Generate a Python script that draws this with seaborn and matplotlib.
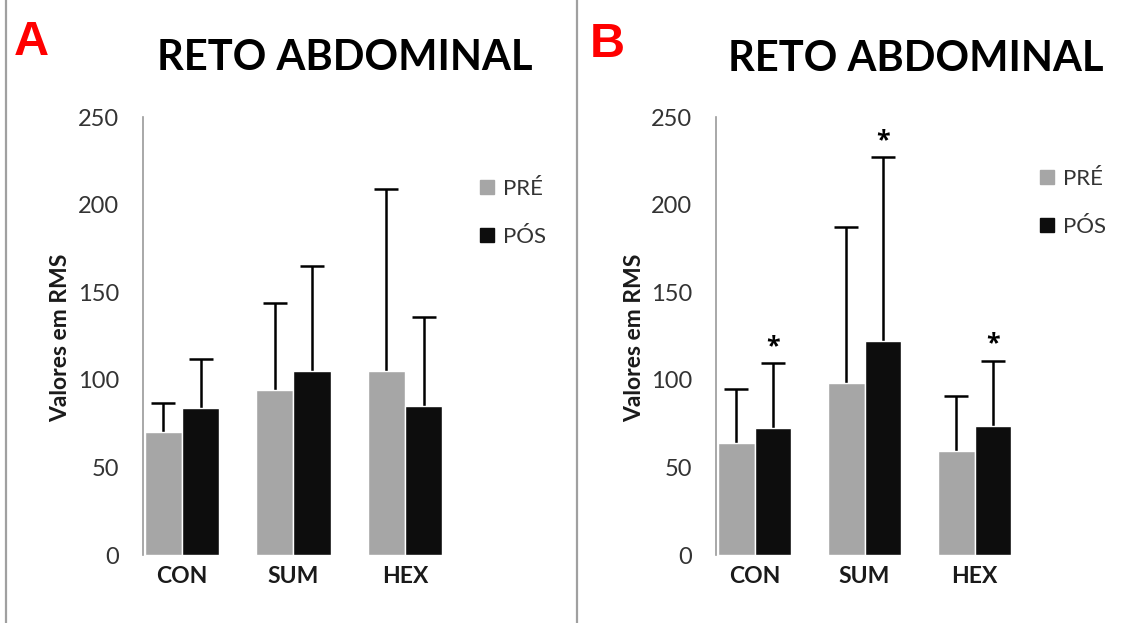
import numpy as np
import pandas as pd
import matplotlib
matplotlib.use("Agg")
import matplotlib.pyplot as plt
from matplotlib.lines import Line2D
import seaborn as sns

groups = ["CON", "SUM", "HEX"]
moments = ["PRÉ", "PÓS"]

# panel A (mean and upward SD)
a_pre = [70, 94, 105]
a_pre_sd = [17, 50, 104]
a_pos = [84, 105, 85]
a_pos_sd = [28, 60, 51]

# panel B
b_pre = [64, 98, 59.5]
b_pre_sd = [31, 89, 31.5]
b_pos = [72.5, 122, 73.5]
b_pos_sd = [37, 105, 37.5]
b_stars = [True, True, True]  # asterisks on PÓS bars

colors = {"PRÉ": "#A6A6A6", "PÓS": "#0D0D0D"}
yticks = [0, 50, 100, 150, 200, 250]

sns.set_style("white")
plt.rcParams['font.family'] = ['Lato', 'DejaVu Sans']


def make_df(pre, pos):
    rows = []
    for g, v in zip(groups, pre):
        rows.append({"grupo": g, "momento": "PRÉ", "valor": v})
    for g, v in zip(groups, pos):
        rows.append({"grupo": g, "momento": "PÓS", "valor": v})
    return pd.DataFrame(rows)


def draw_panel(ax, pre, pre_sd, pos, pos_sd, stars=None):
    df = make_df(pre, pos)
    sns.barplot(data=df, x="grupo", y="valor", hue="momento", order=groups,
                hue_order=moments, palette=colors, width=0.67, errorbar=None,
                edgecolor="white", linewidth=1, saturation=1, legend=False, ax=ax)
    for cont, vals, sds in zip(ax.containers, [pre, pos], [pre_sd, pos_sd]):
        xs = [p.get_x() + p.get_width() / 2 for p in cont.patches]
        ax.errorbar(xs, vals, yerr=sds, fmt="none", ecolor="black",
                    elinewidth=1.8, capsize=8.5, capthick=1.8, zorder=0.5)
    if stars is not None:
        cont = ax.containers[1]
        for p, v, s, st in zip(cont.patches, pos, pos_sd, stars):
            if st:
                ax.annotate("*", (p.get_x() + p.get_width() / 2, v + s),
                            xytext=(0, 12), textcoords="offset points",
                            ha="center", va="center", fontsize=18, fontweight="bold",
                            color="black", family="Open Sans")
    ax.set_ylim(0, 250)
    ax.set_xlim(-0.35, 2.35)
    ax.set_yticks(yticks)
    ax.set_xlabel("")
    ax.set_ylabel("Valores em RMS", fontsize=16.5, fontweight="bold", color="#1a1a1a")
    ax.yaxis.set_label_coords(-0.24, 0.495)
    for side in ["top", "right", "bottom"]:
        ax.spines[side].set_visible(False)
    ax.spines["left"].set_color("#9a9a9a")
    ax.spines["left"].set_linewidth(1.2)
    ax.tick_params(axis="y", direction="out", length=6, width=1.2, color="#9a9a9a",
                   pad=11, labelsize=17, labelcolor="#333333")
    ax.tick_params(axis="x", length=0, pad=8, labelsize=16.5, labelcolor="#1a1a1a")
    for t in ax.get_xticklabels():
        t.set_fontweight("bold")


fig = plt.figure(figsize=(11.35, 6.23), dpi=100)
ax_a = fig.add_axes([143 / 1135, 1 - 555 / 623, 301 / 1135, 438 / 623])
ax_b = fig.add_axes([716 / 1135, 1 - 555 / 623, 297 / 1135, 438 / 623])

draw_panel(ax_a, a_pre, a_pre_sd, a_pos, a_pos_sd)
draw_panel(ax_b, b_pre, b_pre_sd, b_pos, b_pos_sd, stars=b_stars)

handles = [Line2D([], [], marker="s", ls="", color=colors[m], markersize=10) for m in moments]
for ax, lx, ly in [(ax_a, 479 / 1135, 1 - 213 / 623), (ax_b, 1039 / 1135, 1 - 203 / 623)]:
    ax.legend(handles=handles, labels=moments, loc="center left",
              bbox_to_anchor=(lx, ly), bbox_transform=fig.transFigure,
              frameon=False, fontsize=16, labelcolor="#333333",
              handlelength=0.7, handletextpad=0.4, labelspacing=1.25,
              borderpad=0, borderaxespad=0)

fig.text(345 / 1135, 1 - 58 / 623, "RETO ABDOMINAL", ha="center", va="center",
         fontsize=30, fontweight="bold", color="black")
fig.text(916 / 1135, 1 - 59 / 623, "RETO ABDOMINAL", ha="center", va="center",
         fontsize=30, fontweight="bold", color="black")
fig.text(14 / 1135, 1 - 55 / 623, "A", ha="left", va="baseline", fontsize=35,
         fontweight="bold", color="#FF0000", family="Liberation Sans")
fig.text(590 / 1135, 1 - 57 / 623, "B", ha="left", va="baseline", fontsize=35,
         fontweight="bold", color="#FF0000", family="Liberation Sans")

for x in [6, 577]:
    fig.add_artist(Line2D([x / 1135, x / 1135], [0, 1], transform=fig.transFigure,
                          color="#a0a0a0", linewidth=1.6))

fig.savefig("out.png", dpi=100)
